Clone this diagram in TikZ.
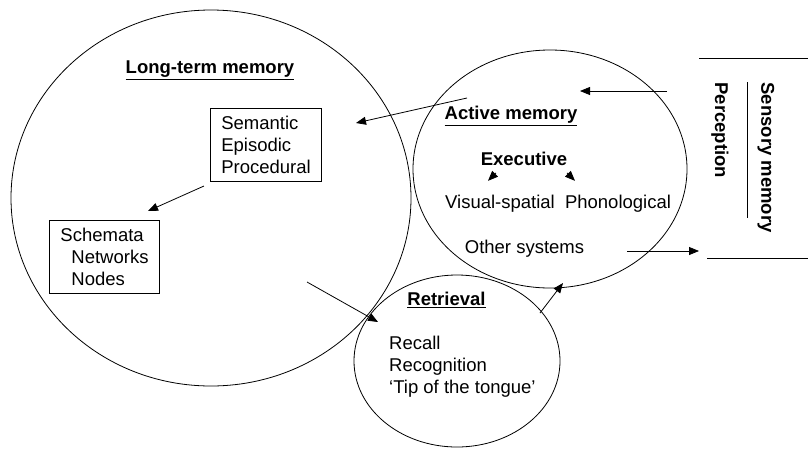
\documentclass[tikz,border=0pt]{standalone}
\usepackage{fontspec}
\setmainfont{Liberation Sans}
\usetikzlibrary{arrows.meta,positioning,shapes.geometric,calc}
\newcommand{\diagfont}{\fontsize{18.5}{22}\selectfont}
\tikzset{
    memory ring/.style={ellipse,draw,line width=.8pt,inner sep=0pt},
    list box/.style={draw,line width=.8pt,align=left,inner xsep=11pt,inner ysep=8pt},
    heading/.style={font=\diagfont\bfseries},
    arr/.style={-{Triangle[length=10pt,width=8pt]},line width=.8pt},
    rule line/.style={line width=.8pt},
}
\tikzstyle{every node}=[font=\diagfont]

\begin{document}
\begin{tikzpicture}[x=1pt,y=-1pt]
        \useasboundingbox (0,0) rectangle (808,448);

        % the three stores
        \node[memory ring, minimum width=400pt, minimum height=376pt] (ltm) at (211,198) {};
        \node[memory ring, minimum width=274pt, minimum height=238pt] (active) at (550,169) {};
        \node[memory ring, minimum width=206pt, minimum height=172pt] (retrieval) at (457,361) {};

        % long-term memory
        \node[heading] (ltm label) at (210,70) {\underline{Long-term memory}};
        \node[list box] (sem) at (266,145) {Semantic\\Episodic\\Procedural};
        \node[list box] (schema) at (104.5,257)
            {Schemata\\\hspace*{11pt}Networks\\\hspace*{11pt}Nodes};

        % active memory
        \node[heading] (active label) at (511,116) {\underline{Active memory}};
        \node[heading] (exec) at (524,159) {Executive};
        \node (visual) at (500,204) {Visual-spatial};
        \node (phono) at (618,204) {Phonological};
        \node (other) at (524.5,249) {Other systems};

        % retrieval
        \node[heading] (retrieval label) at (446.5,300) {\underline{Retrieval}};
        \node[align=left, anchor=west, inner sep=0pt] (ways) at (389,367)
            {Recall\\Recognition\\`Tip of the tongue'};

        % sensory side
        \node[heading, rotate=-90, anchor=west] (sensory) at (766,79) {Sensory memory};
        \node[heading, rotate=-90, anchor=west] (perception) at (720,79) {Perception};
        \draw[rule line] (747,82) -- (747,218);
        \draw[rule line] (699,58) -- (808,58);
        \draw[rule line] (707,258) -- (808,258);

        % arrows
        \coordinate (sensory in) at (667,91);
        \coordinate (active in) at (580,91);
        \coordinate (active out) at (467,98);
        \coordinate (ltm in) at (356,123);
        \coordinate (sem out) at (204,186);
        \coordinate (schema in) at (148,211);
        \coordinate (ltm out) at (307,282);
        \coordinate (retrieval in) at (378,322);
        \coordinate (retrieval out) at (540,313);
        \coordinate (active back) at (563,283);
        \coordinate (other out) at (627,251);
        \coordinate (sensory back) at (699,251);

        \draw[arr] (sensory in) -- (active in);
        \draw[arr] (active out) -- (ltm in);
        \draw[arr] (sem out) -- (schema in);
        \draw[arr] (ltm out) -- (retrieval in);
        \draw[arr] (retrieval out) -- (active back);
        \draw[arr] (other out) -- (sensory back);

        \draw[arr] ($(visual.north)+(-4,-19)$) -- ($(visual.north)+(-12,-11)$);
        \draw[arr] ($(phono.north)+(-51,-19)$) -- ($(phono.north)+(-43,-11)$);
    \end{tikzpicture}
\end{document}
